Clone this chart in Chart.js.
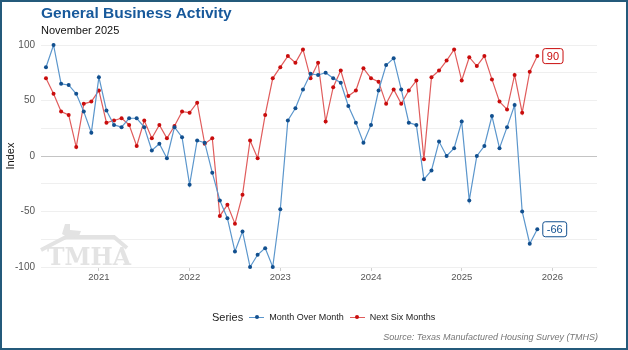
<!DOCTYPE html>
<html>
<head>
<meta charset="utf-8">
<script src="https://cdn.jsdelivr.net/npm/chart.js@4.4.4/dist/chart.umd.min.js"></script>
<style>
  html, body { margin: 0; padding: 0; background: #fff; }
  #frame {
    position: relative; width: 628px; height: 350px;
    box-sizing: border-box; border: 2px solid #245a7b;
    font-family: "Liberation Sans", Arial, sans-serif; overflow: hidden;
  }
  #frame canvas { position: absolute; left: -2px; top: -2px; }
  .title { position: absolute; left: 39px; top: 2px; font-size: 15.5px; font-weight: bold; color: #17599b; }
  .subtitle { position: absolute; left: 39px; top: 22px; font-size: 11px; color: #111; }
  .legend { position: absolute; left: 210px; top: 309px; display: flex; align-items: center; color: #222; }
  .legend .head { font-size: 11px; margin-right: 6px; }
  .legend .item { display: flex; align-items: center; font-size: 9px; margin-right: 6px; }
  .legend .glyph { position: relative; width: 15px; height: 8px; margin-right: 5px; }
  .legend .glyph i { position: absolute; left: 0; right: 0; top: 3.5px; height: 1.2px; }
  .legend .glyph b { position: absolute; left: 5.5px; top: 2px; width: 4px; height: 4px; border-radius: 50%; }
  .source { position: absolute; right: 28px; top: 330px; font-size: 9px; font-style: italic; color: #777; }
</style>
</head>
<body>
<div id="frame">
  <canvas id="chart" width="628" height="350"></canvas>
  <div class="title">General Business Activity</div>
  <div class="subtitle">November 2025</div>
  <div class="legend">
    <span class="head">Series</span>
    <span class="item"><span class="glyph"><i style="background:#5b96cc"></i><b style="background:#12508f"></b></span>Month Over Month</span>
    <span class="item"><span class="glyph"><i style="background:#e05c5c"></i><b style="background:#c90d0d"></b></span>Next Six Months</span>
  </div>
  <div class="source">Source: Texas Manufactured Housing Survey (TMHS)</div>
</div>
<script>
// Monthly survey, first month June 2020, last month November 2025
const firstYear = 2020
const firstMonth = 6

const monthOverMonth = [
  80, 100, 65, 64, 56, 40, 21,
  71, 41, 28, 26, 34, 34, 26, 5, 11, -2, 26, 17, -26, 14, 12, -15, -40,
  -56, -86, -68, -100, -89, -83, -100, -48, 32, 43, 60, 74,
  73, 75, 70, 66, 45, 30, 12, 28, 59, 82, 88, 60,
  30, 28, -21, -13, 13, 0, 7, 31, -40, 0, 9, 36,
  7, 26, 46, -50, -79, -66
]

const nextSixMonths = [
  70, 56, 40, 37, 8, 47, 49,
  59, 30, 32, 34, 28, 9, 32, 16, 28, 16, 27, 40, 39, 48, 11, 16, -54,
  -44, -61, -35, 14, -2, 37, 70, 80, 90, 84, 96, 70,
  84, 31, 62, 77, 54, 59, 79, 70, 67, 47, 60, 47,
  59, 68, -3, 71, 77, 86, 96, 68, 89, 81, 90, 69,
  49, 42, 73, 39, 76, 90
]

const yearTicks = [2021, 2022, 2023, 2024, 2025, 2026]

const toIndex = (year) => (year - firstYear) * 12 + 1 - firstMonth
const toPoints = (arr) => arr.map((v, i) => ({ x: i, y: v }))

const BLUE_LINE = "#5b96cc", BLUE_PT = "#12508f"
const RED_LINE = "#e05c5c", RED_PT = "#c90d0d"

// faint TMHA logo behind the lines
const watermark = {
  id: "watermark",
  beforeDatasetsDraw(chart) {
    const { ctx, chartArea } = chart
    const x = chartArea.left, b = chartArea.bottom
    ctx.save()
    ctx.fillStyle = "#e3e3e3"
    ctx.strokeStyle = "#e3e3e3"
    // roof
    ctx.lineWidth = 4
    ctx.beginPath()
    ctx.moveTo(x, b - 17)
    ctx.lineTo(x + 25, b - 30)
    ctx.lineTo(x + 73, b - 30)
    ctx.lineTo(x + 86, b - 19)
    ctx.stroke()
    // little state outline on the ridge
    ctx.beginPath()
    ctx.moveTo(x + 21, b - 33)
    ctx.lineTo(x + 24, b - 43)
    ctx.lineTo(x + 29, b - 43)
    ctx.lineTo(x + 29, b - 37)
    ctx.lineTo(x + 40, b - 36)
    ctx.lineTo(x + 38, b - 31)
    ctx.lineTo(x + 30, b - 28)
    ctx.closePath()
    ctx.fill()
    // letters squeezed to the logo width
    ctx.font = "bold 24px 'DejaVu Serif', serif"
    const w = ctx.measureText("TMHA").width
    ctx.translate(x + 6, b - 2)
    ctx.scale(84 / w, 1)
    ctx.fillText("TMHA", 0, 0)
    ctx.restore()
  }
}

// boxed value next to the last point of each series
const endLabels = {
  id: "endLabels",
  afterDatasetsDraw(chart) {
    const { ctx } = chart
    ctx.save()
    ctx.font = "11px 'Liberation Sans', Arial, sans-serif"
    ctx.textBaseline = "middle"
    chart.data.datasets.forEach((ds, i) => {
      const meta = chart.getDatasetMeta(i)
      const pt = meta.data[meta.data.length - 1]
      const text = String(ds.data[ds.data.length - 1].y)
      const w = ctx.measureText(text).width + 8
      const bx = pt.x + 5.5, by = pt.y - 7.5
      ctx.fillStyle = "#fff"
      ctx.strokeStyle = ds.pointBackgroundColor
      ctx.lineWidth = 1
      ctx.beginPath()
      ctx.roundRect(bx, by, w, 15, 2.5)
      ctx.fill()
      ctx.stroke()
      ctx.fillStyle = ds.pointBackgroundColor
      ctx.fillText(text, bx + 4, by + 8)
    })
    ctx.restore()
  }
}

new Chart(document.getElementById("chart"), {
  type: "line",
  data: {
    datasets: [
      {
        label: "Month Over Month",
        data: toPoints(monthOverMonth),
        borderColor: BLUE_LINE,
        backgroundColor: BLUE_PT,
        pointBackgroundColor: BLUE_PT,
        pointBorderWidth: 0,
        pointRadius: 2,
        borderWidth: 1.2,
        tension: 0,
        clip: false
      },
      {
        label: "Next Six Months",
        data: toPoints(nextSixMonths),
        borderColor: RED_LINE,
        backgroundColor: RED_PT,
        pointBackgroundColor: RED_PT,
        pointBorderWidth: 0,
        pointRadius: 2,
        borderWidth: 1.2,
        tension: 0,
        clip: false
      }
    ]
  },
  options: {
    responsive: false,
    animation: false,
    layout: { padding: { left: 0, right: 31, top: 45, bottom: 63 } },
    plugins: {
      legend: { display: false },
      tooltip: { enabled: false }
    },
    scales: {
      x: {
        type: "linear",
        min: -0.66,
        max: 72.9,
        afterFit: (s) => { s.height = 20 },
        afterBuildTicks: (s) => { s.ticks = yearTicks.map(y => ({ value: toIndex(y) })) },
        ticks: {
          color: "#555",
          font: { family: "'Liberation Sans', Arial, sans-serif", size: 9.5 },
          padding: 1,
          maxRotation: 0,
          callback: (v) => String(firstYear + Math.round((v + firstMonth - 1) / 12))
        },
        grid: { drawOnChartArea: false, drawTicks: true, tickLength: 4, tickColor: "#cfcfcf" },
        border: { display: false }
      },
      y: {
        min: -100,
        max: 100,
        afterFit: (s) => { s.width = 41 },
        ticks: {
          stepSize: 25,
          color: "#555",
          padding: 6,
          font: { family: "'Liberation Sans', Arial, sans-serif", size: 10 },
          callback: (v) => (v % 50 === 0 ? String(v) : "")
        },
        grid: {
          drawTicks: false,
          lineWidth: 1,
          color: (c) => (c.tick && c.tick.value === 0 ? "#c4c4c4" : "#efefef")
        },
        border: { display: false },
        title: {
          display: true,
          text: "Index",
          color: "#111",
          font: { family: "'Liberation Sans', Arial, sans-serif", size: 11 },
          padding: { top: 4, bottom: 0 }
        }
      }
    }
  },
  plugins: [watermark, endLabels]
})
</script>
</body>
</html>
